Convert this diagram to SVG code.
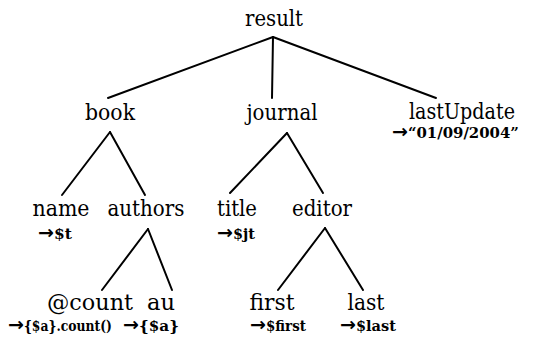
<svg xmlns="http://www.w3.org/2000/svg" width="536" height="344" viewBox="0 0 536 344">
<style>
.e line{stroke:#000;stroke-width:2;stroke-linecap:round}
.n text{font-family:'DejaVu Serif',serif;font-size:23px;text-anchor:middle;fill:#000}
.n text.l{font-family:'DejaVu Serif',serif;font-size:14px;font-weight:bold;text-anchor:start}
.ar{font-family:'DejaVu Sans',sans-serif;font-size:19px;font-weight:bold}
</style>
<rect width="536" height="344" fill="#fff"/>
<g class="e" id="connectors">
<line x1="273" y1="37" x2="108" y2="98"/>
<line x1="273" y1="37" x2="272" y2="98"/>
<line x1="273" y1="37" x2="436" y2="98"/>
<line x1="110" y1="132" x2="62" y2="195"/>
<line x1="110" y1="132" x2="145" y2="195"/>
<line x1="287" y1="133" x2="230" y2="193"/>
<line x1="287" y1="133" x2="323" y2="193"/>
<line x1="148" y1="229" x2="102" y2="290"/>
<line x1="148" y1="229" x2="172" y2="290"/>
<line x1="325" y1="228" x2="278" y2="290"/>
<line x1="325" y1="228" x2="363" y2="290"/>
</g>
<g class="n">
<g id="result"><text x="274" y="26" textLength="58" lengthAdjust="spacingAndGlyphs">result</text></g>
<g id="book"><text x="110" y="120" textLength="50" lengthAdjust="spacingAndGlyphs">book</text></g>
<g id="journal"><text x="282" y="120" textLength="71" lengthAdjust="spacingAndGlyphs">journal</text></g>
<g id="lastUpdate"><text x="462" y="119" textLength="106" lengthAdjust="spacingAndGlyphs">lastUpdate</text><text class="l" x="392" y="138" style="font-size:15px"><tspan class="ar">→</tspan><tspan textLength="111" lengthAdjust="spacingAndGlyphs">“01/09/2004”</tspan></text></g>
<g id="name"><text x="61" y="216" textLength="57" lengthAdjust="spacingAndGlyphs">name</text><text class="l" x="38" y="239"><tspan class="ar">→</tspan><tspan textLength="18" lengthAdjust="spacingAndGlyphs">$t</tspan></text></g>
<g id="authors"><text x="146" y="216" textLength="77" lengthAdjust="spacingAndGlyphs">authors</text></g>
<g id="title"><text x="237" y="216" textLength="40" lengthAdjust="spacingAndGlyphs">title</text><text class="l" x="217" y="239"><tspan class="ar">→</tspan><tspan textLength="22" lengthAdjust="spacingAndGlyphs">$jt</tspan></text></g>
<g id="editor"><text x="322" y="216" textLength="60" lengthAdjust="spacingAndGlyphs">editor</text></g>
<g id="count"><text x="90" y="310" textLength="86" lengthAdjust="spacingAndGlyphs">@count</text><text class="l" x="8" y="331"><tspan class="ar">→</tspan><tspan textLength="88" lengthAdjust="spacingAndGlyphs">{$a}.count()</tspan></text></g>
<g id="au"><text x="161" y="310" textLength="28" lengthAdjust="spacingAndGlyphs">au</text><text class="l" x="123" y="331"><tspan class="ar">→</tspan><tspan textLength="40" lengthAdjust="spacingAndGlyphs">{$a}</tspan></text></g>
<g id="first"><text x="272" y="310" textLength="45" lengthAdjust="spacingAndGlyphs">first</text><text class="l" x="250" y="331"><tspan class="ar">→</tspan><tspan textLength="40" lengthAdjust="spacingAndGlyphs">$first</tspan></text></g>
<g id="last"><text x="366" y="310" textLength="37" lengthAdjust="spacingAndGlyphs">last</text><text class="l" x="340" y="331"><tspan class="ar">→</tspan><tspan textLength="40" lengthAdjust="spacingAndGlyphs">$last</tspan></text></g>
</g>
</svg>
